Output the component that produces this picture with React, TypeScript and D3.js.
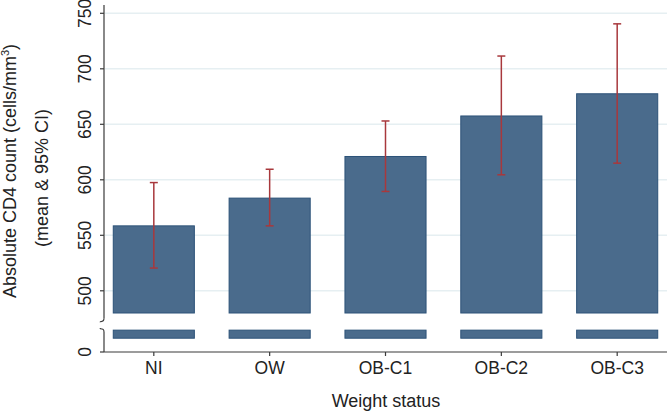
import React from "react";
import * as d3 from "d3";

const categories = ["NI", "OW", "OB-C1", "OB-C2", "OB-C3"];
const means = [558.5, 583.5, 621, 657.5, 677.5];
const ciLow = [520.5, 558.5, 589.5, 604.5, 615];
const ciHigh = [597.5, 609.5, 653, 711.5, 740.5];
const yTicks = [500, 550, 600, 650, 700, 750];
const lowTicks = [0];

const width = 669;
const height = 414;
const left = 104;
const right = 667;
const axisY = 352;

// upper panel (broken axis) and the stub below the break
const upperBase = 480;
const upperTop = 757.5;
const upperBreak = 472.5;
const stubFrom = 30;
const stubTo = 47.5;

const barFill = "#4a6b8c";
const barStroke = "#2c5278";
const ciColor = "#a8383c";
const axisColor = "#3a3a3a";
const textColor = "#222";
const gridColor = "#e6eff2";

const font = "'Liberation Sans', Arial, sans-serif";

const App = () => {
  const x = d3.scaleBand().domain(categories).range([left, right]).paddingInner(0.3).paddingOuter(0.08);
  const y = d3.scaleLinear().domain([500, 750]).range([290.8, 13.3]);
  const yLow = d3.scaleLinear().domain([0, 50]).range([axisY, 329]);
  const cx = (c) => x(c) + x.bandwidth() / 2;
  const cap = 4;

  const breakTop = y(upperBreak);
  const breakBottom = yLow(50);

  return (
    <svg width={width} height={height} style={{ position: "absolute", left: 0, top: 0, background: "#fff" }}
      fontFamily={font}>
      <rect width={width} height={height} fill="#fff" />

      {yTicks.map((t) => (
        <line key={"g" + t} x1={left + 1} x2={right} y1={y(t)} y2={y(t)} stroke={gridColor} strokeWidth={1.5} />
      ))}

      {categories.map((c, i) => (
        <g key={c}>
          <rect x={x(c)} y={y(means[i])} width={x.bandwidth()} height={y(upperBase) - y(means[i])}
            fill={barFill} stroke={barStroke} strokeWidth={1} />
          <rect x={x(c)} y={yLow(stubTo)} width={x.bandwidth()} height={yLow(stubFrom) - yLow(stubTo)}
            fill={barFill} stroke={barStroke} strokeWidth={1} />
          <line x1={cx(c)} x2={cx(c)} y1={y(ciHigh[i])} y2={y(ciLow[i])} stroke={ciColor} strokeWidth={1.5} />
          <line x1={cx(c) - cap} x2={cx(c) + cap} y1={y(ciHigh[i])} y2={y(ciHigh[i])} stroke={ciColor} strokeWidth={1.5} />
          <line x1={cx(c) - cap} x2={cx(c) + cap} y1={y(ciLow[i])} y2={y(ciLow[i])} stroke={ciColor} strokeWidth={1.5} />
        </g>
      ))}

      {/* y axis, upper segment */}
      <line x1={left} x2={left} y1={y(upperTop)} y2={breakTop - 3} stroke={axisColor} strokeWidth={1.2} />
      <path d={`M${left},${breakTop - 3} q0,3 -2,3 t-2,1`} fill="none" stroke={axisColor} strokeWidth={1.1} />
      {/* y axis, lower segment */}
      <line x1={left} x2={left} y1={breakBottom + 3} y2={axisY} stroke={axisColor} strokeWidth={1.2} />
      <path d={`M${left},${breakBottom + 3} q0,-3 -2,-3 t-2,-1`} fill="none" stroke={axisColor} strokeWidth={1.1} />

      {yTicks.map((t) => (
        <g key={"t" + t}>
          <line x1={left - 4} x2={left} y1={y(t)} y2={y(t)} stroke={axisColor} strokeWidth={1.2} />
          <text transform={`translate(91,${y(t)}) rotate(-90)`} textAnchor="middle" fontSize={17.5} fill={textColor}>
            {t}
          </text>
        </g>
      ))}
      {lowTicks.map((t) => (
        <g key={"l" + t}>
          <line x1={left - 4} x2={left} y1={yLow(t)} y2={yLow(t)} stroke={axisColor} strokeWidth={1.2} />
          <text transform={`translate(91,${yLow(t)}) rotate(-90)`} textAnchor="middle" fontSize={17.5} fill={textColor}>
            {t}
          </text>
        </g>
      ))}

      {/* x axis */}
      <line x1={left} x2={right} y1={axisY} y2={axisY} stroke={axisColor} strokeWidth={1.2} />
      {categories.map((c) => (
        <g key={"x" + c}>
          <line x1={cx(c)} x2={cx(c)} y1={axisY} y2={axisY + 4} stroke={axisColor} strokeWidth={1.2} />
          <text x={cx(c)} y={373.5} textAnchor="middle" fontSize={17.5} fill={textColor}>{c}</text>
        </g>
      ))}

      <text x={386} y={407} textAnchor="middle" fontSize={18} fill={textColor}>Weight status</text>

      <text transform="translate(16,171) rotate(-90)" textAnchor="middle" fontSize={18} fill={textColor}>
        Absolute CD4 count (cells/mm<tspan dy={-7} fontSize={11}>3</tspan><tspan dy={7}>)</tspan>
      </text>
      <text transform="translate(47.5,178) rotate(-90)" textAnchor="middle" fontSize={18} fill={textColor}>
        (mean &amp; 95% CI)
      </text>
    </svg>
  );
};

export default App;
